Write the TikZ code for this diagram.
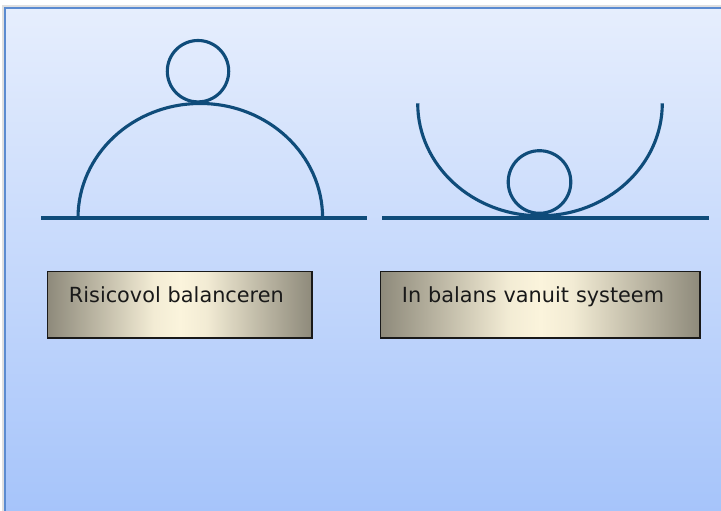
\documentclass[tikz,border=0pt]{standalone}
\usepackage{fontspec}
\setmainfont{DejaVu Sans}
\definecolor{lijnblauw}{HTML}{0F4C7A}
\definecolor{vlakboven}{HTML}{E6EEFD}
\definecolor{vlakonder}{HTML}{A6C4FA}
\definecolor{vlakrand}{HTML}{5B8BD0}
\definecolor{vakrand}{HTML}{8E8A7B}
\definecolor{vakmidden}{HTML}{FBF4DC}
\pgfdeclarehorizontalshading{vakverloop}{100bp}{
    color(0bp)=(vakrand); color(25bp)=(vakrand); color(36bp)=(vakrand!50!vakmidden);
    color(45bp)=(vakmidden!92!vakrand); color(50bp)=(vakmidden);
    color(55bp)=(vakmidden!92!vakrand); color(64bp)=(vakrand!50!vakmidden);
    color(75bp)=(vakrand); color(100bp)=(vakrand)}

\begin{document}
\begin{tikzpicture}[x=0.025cm, y=0.025cm,
        lijn/.style={draw=lijnblauw, line width=0.78mm},
        tekstvak/.style={draw=black!90, line width=0.45mm, shading=vakverloop,
            anchor=north west, inner xsep=5.375mm, inner ysep=0pt,
            text height=7.825mm, text depth=8.825mm, align=left,
            text=black!90, font=\fontsize{14.8}{18}\selectfont}]
        \useasboundingbox (0, 0) rectangle (721, 511);

        % achtergrond
        \shade [top color=vlakboven, bottom color=vlakonder] (5, 0) rectangle (721, 503);
        \draw [black!12, line width=0.6mm] (3, 0) -- (3, 505) -- (721, 505);
        \draw [vlakrand, line width=0.5mm] (5, 0) -- (5, 503) -- (721, 503);

        % links: bal op de koepel
        \draw [lijn] (41, 293) -- (367, 293);
        \draw [lijn] (78, 293) arc [start angle=180, end angle=0, x radius=122.3, y radius=114.5];
        \draw [lijn] (198, 439.8) circle [radius=30.7];

        % rechts: bal in de kom
        \draw [lijn] (382, 293) -- (709, 293);
        \draw [lijn] (417.7, 407.7) arc [start angle=180, end angle=360, x radius=122.3, y radius=112.5];
        \draw [lijn] (539.5, 329) circle [radius=31.3];

        \node [tekstvak, text width=55.375mm] (risico) at (46.5, 240.3) {Risicovol balanceren};
        \node [tekstvak, text width=69.125mm] (balans) at (379.5, 240.3) {In balans vanuit systeem};
    \end{tikzpicture}
\end{document}
